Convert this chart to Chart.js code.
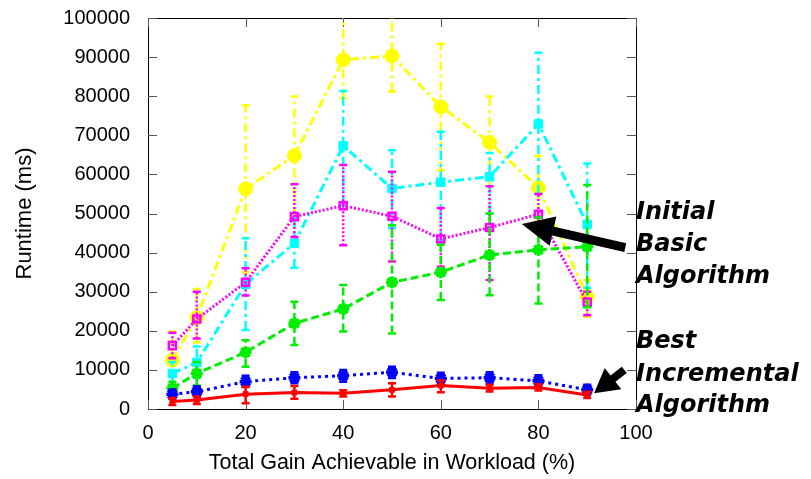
<!DOCTYPE html>
<html><head><meta charset="utf-8">
<script src="https://cdn.jsdelivr.net/npm/chart.js@4.4.1/dist/chart.umd.min.js"></script>
<style>html,body{margin:0;padding:0;background:#fff}</style>
</head><body>
<canvas id="c" width="811" height="479"></canvas>
<script>
const gain = [5, 10, 20, 30, 40, 50, 60, 70, 80, 90];

const redMean = [1900, 2300, 3800, 4200, 4000, 4900, 6000, 5300, 5500, 3600];
const redLo   = [1000, 1300, 1500, 2600, 3200, 3200, 4300, 4500, 4700, 2800];
const redHi   = [2800, 3200, 5700, 5900, 4800, 6600, 7300, 6200, 6300, 4400];

const blueMean = [3800, 4400, 7000, 8000, 8500, 9400, 7800, 8000, 7200, 4900];
const blueLo   = [2600, 3100, 5600, 6600, 7000, 7900, 6300, 6500, 5800, 3600];
const blueHi   = [5000, 5800, 8500, 9400, 10000, 10800, 9300, 9400, 8600, 6200];

const greenMean = [5300, 9100, 14500, 21900, 25600, 32400, 35000, 39400, 40700, 41500];
const greenLo   = [3500, 6000, 10800, 16400, 19800, 19300, 27900, 29100, 27000, 26000];
const greenHi   = [7000, 12000, 17600, 27400, 31700, 47000, 42000, 50000, 49000, 57300];

const magentaMean = [16200, 23000, 32400, 49200, 52000, 49300, 43500, 46400, 49800, 27300];
const magentaLo   = [13000, 18000, 29000, 44000, 41900, 37700, 36400, 33000, 45000, 24000];
const magentaHi   = [19500, 30000, 36000, 57500, 62400, 60700, 51400, 57000, 55000, 30000];

const cyanMean = [9100, 11900, 31900, 42400, 67300, 56400, 58000, 59400, 72900, 47200];
const cyanLo   = [6000, 8000, 20200, 36100, 52000, 46300, 43200, 50000, 55000, 31000];
const cyanHi   = [12000, 16000, 43700, 49000, 81300, 66200, 70900, 65500, 91100, 62800];

const yellowMean = [12500, 23400, 56300, 64800, 89300, 90300, 77300, 68200, 56600, 28700];
const yellowLo   = [6000, 17000, 35000, 49000, 79500, 81200, 61000, 57000, 48000, 23600];
const yellowHi   = [19800, 30700, 77700, 79900, 102000, 102000, 93400, 79900, 64700, 33000];

const yTicks = [0, 10000, 20000, 30000, 40000, 50000, 60000, 70000, 80000, 90000, 100000];
const xTicks = [0, 20, 40, 60, 80, 100];

const pts = arr => arr.map((v, i) => ({x: gain[i], y: v}));

// error bars drawn just before each line, with the same dash
const errorBars = {
  id: "errorBars",
  beforeDatasetDraw(chart, args){
    const ds = chart.data.datasets[args.index];
    const {ctx, chartArea: a, scales: {x, y}} = chart;
    ctx.save();
    ctx.beginPath(); ctx.rect(a.left, a.top, a.right - a.left, a.bottom - a.top); ctx.clip();
    ctx.strokeStyle = ds.borderColor; ctx.lineWidth = 2.5;
    ds.data.forEach((p, i) => {
      const px = x.getPixelForValue(p.x);
      const lo = y.getPixelForValue(ds.errLo[i]), hi = y.getPixelForValue(ds.errHi[i]);
      ctx.setLineDash(ds.borderDash || []);
      ctx.beginPath(); ctx.moveTo(px, lo); ctx.lineTo(px, hi); ctx.stroke();
      ctx.setLineDash([]);
      ctx.beginPath();
      ctx.moveTo(px - 4, lo); ctx.lineTo(px + 4, lo);
      ctx.moveTo(px - 4, hi); ctx.lineTo(px + 4, hi);
      ctx.stroke();
    });
    ctx.restore();
  }
};

// box frame with inward ticks on all four sides
const frame = {
  id: "frame",
  beforeDatasetsDraw(chart){
    const {ctx, chartArea: a, scales: {x, y}} = chart;
    ctx.save();
    ctx.strokeStyle = "#000"; ctx.lineWidth = 1;
    ctx.strokeRect(a.left + .5, a.top + .5, a.right - a.left, a.bottom - a.top);
    ctx.strokeStyle = "#555";
    ctx.beginPath();
    yTicks.forEach(v => {
      const py = Math.round(y.getPixelForValue(v)) + .5;
      ctx.moveTo(a.left, py); ctx.lineTo(a.left + 9, py);
      ctx.moveTo(a.right, py); ctx.lineTo(a.right - 9, py);
    });
    xTicks.forEach(v => {
      const px = Math.round(x.getPixelForValue(v)) + .5;
      ctx.moveTo(px, a.bottom); ctx.lineTo(px, a.bottom - 9);
      ctx.moveTo(px, a.top); ctx.lineTo(px, a.top + 9);
    });
    ctx.stroke();
    ctx.restore();
  }
};

function arrow(ctx, x0, y0, x1, y1, w, hl, hw){
  const d = Math.hypot(x1 - x0, y1 - y0), ux = (x1 - x0) / d, uy = (y1 - y0) / d;
  const bx = x1 - ux * hl, by = y1 - uy * hl;
  ctx.lineWidth = w; ctx.lineCap = "butt";
  ctx.beginPath(); ctx.moveTo(x0, y0); ctx.lineTo(bx + ux * 2, by + uy * 2); ctx.stroke();
  ctx.beginPath();
  ctx.moveTo(x1, y1);
  ctx.lineTo(bx - uy * hw / 2, by + ux * hw / 2);
  ctx.lineTo(bx + uy * hw / 2, by - ux * hw / 2);
  ctx.closePath(); ctx.fill();
}

const notes = {
  id: "notes",
  afterDraw(chart){
    const {ctx, scales: {x, y}} = chart;
    ctx.save();
    ctx.fillStyle = "#000"; ctx.strokeStyle = "#000";
    ctx.font = "italic bold 24px 'DejaVu Sans'";
    ctx.textBaseline = "alphabetic";
    [["Initial", 219], ["Basic", 251], ["Algorithm", 283],
     ["Best", 348], ["Incremental", 381], ["Algorithm", 412]].forEach(([t, py]) => ctx.fillText(t, 636, py));
    arrow(ctx, x.getPixelForValue(97.8), y.getPixelForValue(41300), x.getPixelForValue(76.6), y.getPixelForValue(47300), 9, 32, 30);
    arrow(ctx, x.getPixelForValue(97.6), y.getPixelForValue(10000), x.getPixelForValue(91.4), y.getPixelForValue(4000), 8, 24, 27);
    ctx.restore();
  }
};

const mk = (color, mean, lo, hi, dash, style, r, fill, bw) => ({
  data: pts(mean), errLo: lo, errHi: hi,
  borderColor: color, backgroundColor: fill, borderWidth: 3, borderDash: dash,
  pointStyle: style, pointRadius: r, pointBorderWidth: bw, pointBorderColor: color,
  pointBackgroundColor: fill, tension: 0, fill: false
});

const tickFont = {family: "'Liberation Sans'", size: 20};

new Chart(document.getElementById("c"), {
  type: "line",
  data: {datasets: [
    mk("#ff0000", redMean, redLo, redHi, [], "rect", 3.5, "#ff0000", 1),
    mk("#0000ff", blueMean, blueLo, blueHi, [3, 4], "star", 6, "#0000ff", 3.5),
    mk("#00ee00", greenMean, greenLo, greenHi, [8, 4], "star", 6, "#00ee00", 3.5),
    mk("#ff00ff", magentaMean, magentaLo, magentaHi, [2, 2], "rect", 5, "rgba(0,0,0,0)", 2.5),
    mk("#00ffff", cyanMean, cyanLo, cyanHi, [9, 4, 3, 4], "rect", 6, "#00ffff", 1),
    mk("#ffff00", yellowMean, yellowLo, yellowHi, [9, 4, 3, 4], "circle", 7, "#ffff00", 1)
  ]},
  options: {
    responsive: false, animation: false, devicePixelRatio: 1,
    layout: {padding: {left: 0, right: 175, top: 18, bottom: 0}},
    plugins: {legend: {display: false}, tooltip: {enabled: false}},
    scales: {
      x: {type: "linear", min: 0, max: 100,
        afterFit: s => { s.height = 70; },
        afterBuildTicks: s => { s.ticks = xTicks.map(v => ({value: v})); },
        grid: {display: false}, border: {display: false},
        ticks: {color: "#000", padding: 4, font: tickFont, maxRotation: 0},
        title: {display: true, text: "Total Gain Achievable in Workload (%)", color: "#000",
          font: {family: "'Liberation Sans'", size: 21.5}, padding: {top: 0, bottom: 3}}},
      y: {min: 0, max: 100000,
        afterFit: s => { s.width = 148; s.paddingTop = 0; s.paddingBottom = 0; },
        afterBuildTicks: s => { s.ticks = yTicks.map(v => ({value: v})); },
        grid: {display: false}, border: {display: false},
        ticks: {color: "#000", padding: 10, font: tickFont, callback: v => String(v)},
        title: {display: true, text: "Runtime (ms)", color: "#000",
          font: {family: "'Liberation Sans'", size: 22}, padding: {top: 12, bottom: 0}}}
    }
  },
  plugins: [frame, errorBars, notes]
});
</script>
</body></html>
